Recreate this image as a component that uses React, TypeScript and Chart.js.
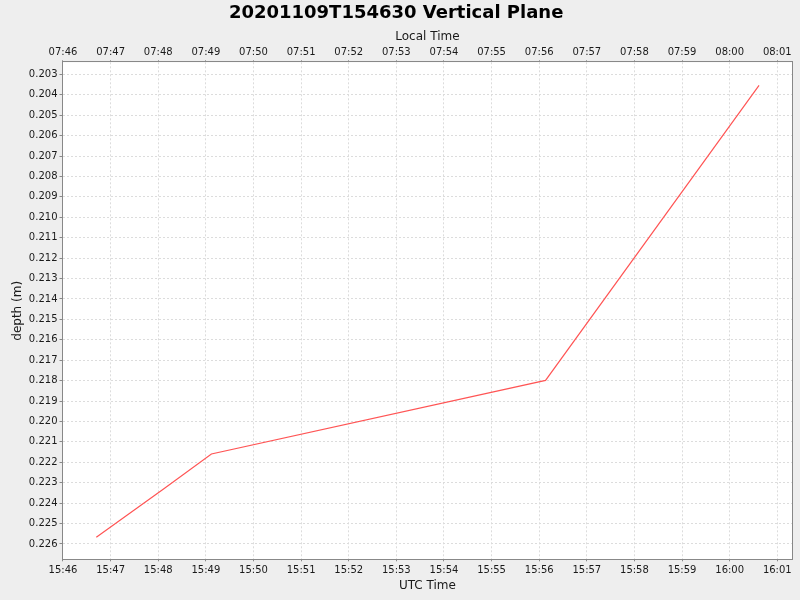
import React, { useEffect, useRef } from "react";
import { Chart, registerables } from "chart.js";

Chart.register(...registerables);

// ---- data ----
const utcTimes = ["15:46:42", "15:48:08", "15:49:07", "15:56:08", "16:00:37"];
const depths = [0.22567, 0.22327, 0.22159, 0.21799, 0.20354];

const utcTickLabels = [
  "15:46", "15:47", "15:48", "15:49", "15:50", "15:51", "15:52", "15:53",
  "15:54", "15:55", "15:56", "15:57", "15:58", "15:59", "16:00", "16:01",
];
const localTickLabels = [
  "07:46", "07:47", "07:48", "07:49", "07:50", "07:51", "07:52", "07:53",
  "07:54", "07:55", "07:56", "07:57", "07:58", "07:59", "08:00", "08:01",
];
const depthTicks = [
  0.203, 0.204, 0.205, 0.206, 0.207, 0.208, 0.209, 0.21, 0.211, 0.212, 0.213, 0.214,
  0.215, 0.216, 0.217, 0.218, 0.219, 0.22, 0.221, 0.222, 0.223, 0.224, 0.225, 0.226,
];
const timeRange = ["15:45:59.4", "16:01:18.9"];
const depthRange = [0.20241, 0.22675];

const toSec = (s: string) => {
  const [h, m, sec] = s.split(":").map(Number);
  return h * 3600 + m * 60 + (sec || 0);
};

const FONT = "DejaVu Sans";

const frame = {
  id: "frame",
  beforeDraw(chart: any) {
    const { ctx, chartArea: a } = chart;
    ctx.save();
    ctx.fillStyle = "#EEEEEE";
    ctx.fillRect(0, 0, chart.width, chart.height);
    ctx.fillStyle = "#FFFFFF";
    ctx.fillRect(a.left, a.top, a.right - a.left, a.bottom - a.top);
    ctx.restore();
  },
  afterDraw(chart: any) {
    const { ctx, chartArea: a } = chart;
    ctx.save();
    ctx.strokeStyle = "#888888";
    ctx.lineWidth = 1;
    ctx.strokeRect(Math.round(a.left) - 0.5, Math.round(a.top) - 0.5,
      Math.round(a.right) - Math.round(a.left) + 1, Math.round(a.bottom) - Math.round(a.top) + 1);
    ctx.restore();
  },
};

export default function App() {
  const ref = useRef<HTMLCanvasElement | null>(null);

  useEffect(() => {
    if (!ref.current) return;
    const xMin = toSec(timeRange[0]);
    const xMax = toSec(timeRange[1]);
    const xTickVals = utcTickLabels.map((t) => toSec(t));
    const tickFont = { family: FONT, size: 10 };
    const titleFont = { family: FONT, size: 12 };

    const chart = new Chart(ref.current, {
      type: "line",
      data: {
        datasets: [
          {
            data: utcTimes.map((t, i) => ({ x: toSec(t), y: depths[i] })),
            borderColor: "#FF5555",
            borderWidth: 1.2,
            pointRadius: 0,
            fill: false,
            tension: 0,
          },
        ],
      },
      options: {
        animation: false,
        responsive: false,
        devicePixelRatio: 1,
        layout: { padding: { left: 0, right: 7.7, top: 0, bottom: 0 } },
        plugins: {
          legend: { display: false },
          tooltip: { enabled: false },
          title: {
            display: true,
            text: "20201109T154630 Vertical Plane",
            color: "#000000",
            font: { family: FONT, size: 18, weight: "bold" },
            padding: { top: 3, bottom: 0 },
          },
        },
        scales: {
          x: {
            type: "linear",
            position: "bottom",
            min: xMin,
            max: xMax,
            afterBuildTicks: (s: any) => {
              s.ticks = xTickVals.map((v) => ({ value: v }));
            },
            afterFit: (s: any) => {
              s.height = 40.7;
            },
            ticks: {
              autoSkip: false,
              maxRotation: 0,
              padding: 3,
              color: "#1a1a1a",
              font: tickFont,
              callback: (_v: any, i: number) => utcTickLabels[i],
            },
            grid: {
              color: "#dcdcdc",
              tickLength: 2,
              tickColor: "#888888",
              tickBorderDash: [],
            } as any,
            border: { display: false, dash: [2, 2] },
            title: {
              display: true,
              text: "UTC Time",
              color: "#1a1a1a",
              font: titleFont,
              padding: { top: 0, bottom: 6.8 },
            },
          },
          xTop: {
            type: "linear",
            position: "top",
            min: xMin,
            max: xMax,
            afterBuildTicks: (s: any) => {
              s.ticks = xTickVals.map((v) => ({ value: v }));
            },
            afterFit: (s: any) => {
              s.height = 37.7;
            },
            ticks: {
              autoSkip: false,
              maxRotation: 0,
              padding: 1.5,
              color: "#1a1a1a",
              font: tickFont,
              callback: (_v: any, i: number) => localTickLabels[i],
            },
            grid: {
              drawOnChartArea: false,
              tickLength: 2,
              tickColor: "#888888",
            },
            border: { display: false },
            title: {
              display: true,
              text: "Local Time",
              color: "#1a1a1a",
              font: titleFont,
              padding: { top: 5.5, bottom: 0 },
            },
          },
          y: {
            type: "linear",
            position: "left",
            reverse: true,
            min: depthRange[0],
            max: depthRange[1],
            afterBuildTicks: (s: any) => {
              s.ticks = depthTicks.map((v) => ({ value: v }));
            },
            afterFit: (s: any) => {
              s.width = 62.5;
            },
            ticks: {
              autoSkip: false,
              padding: 2,
              color: "#1a1a1a",
              font: tickFont,
              callback: (v: any) => Number(v).toFixed(3),
            },
            grid: {
              color: "#dcdcdc",
              tickLength: 3,
              tickColor: "#888888",
              tickBorderDash: [],
            } as any,
            border: { display: false, dash: [2, 2] },
            title: {
              display: true,
              text: "depth (m)",
              color: "#1a1a1a",
              font: titleFont,
              padding: { top: 10.8, bottom: 0 },
            },
          },
        },
      },
      plugins: [frame],
    } as any);

    return () => chart.destroy();
  }, []);

  return (
    <div style={{ position: "absolute", left: 0, top: 0, width: 800, height: 600 }}>
      <canvas ref={ref} width={800} height={600} style={{ display: "block", width: 800, height: 600 }} />
    </div>
  );
}
